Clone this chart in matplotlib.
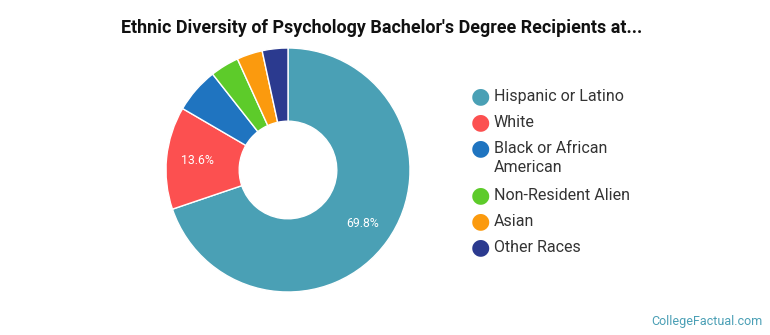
import numpy as np
import matplotlib.pyplot as plt

plt.rcParams['font.family'] = ['Roboto', 'DejaVu Sans']

# data
groups = ['Hispanic or Latino', 'White', 'Black or African\nAmerican',
          'Non-Resident Alien', 'Asian', 'Other Races']
shares = [69.8, 13.6, 6.0, 3.8, 3.4, 3.4]
colors = ['#4aa0b5', '#fc5050', '#1f74c0', '#5dcb2a', '#fb9a0e', '#2b3a8f']

fig = plt.figure(figsize=(7.7, 3.35), dpi=100)
W, H = 770, 335

# donut
cx, cy, r = 288, 170, 122
ax = fig.add_axes([(cx - r) / W, (H - cy - r) / H, 2 * r / W, 2 * r / H])
wedges, _ = ax.pie(shares, colors=colors, startangle=90, counterclock=False,
                   radius=1, wedgeprops=dict(width=0.6, edgecolor='white', linewidth=1))
ax.set_xlim(-1, 1)
ax.set_ylim(-1, 1)
ax.set_aspect('equal')
ax.axis('off')

# percent labels on the two big slices
for val, w in zip(shares, wedges):
    if val >= 10:
        mid = np.deg2rad((w.theta1 + w.theta2) / 2)
        ax.text(0.75 * np.cos(mid), 0.75 * np.sin(mid), f'{val}%', color='white',
                fontsize=8.8, ha='center', va='center')

fig.text(382 / W, 1 - 28 / H,
         "Ethnic Diversity of Psychology Bachelor's Degree Recipients at...",
         ha='center', va='center', fontsize=12.9, fontweight='bold', color='#111111')

# legend
y = 96
for lab, col in zip(groups, colors):
    fig.text(480 / W, 1 - y / H, '\u25cf', color=col, fontsize=16, ha='center', va='center',
             family='DejaVu Sans')
    fig.text(494 / W, 1 - (y - 7) / H, lab, fontsize=11.5, color='#333333',
             ha='left', va='top', linespacing=1.35)
    y += 26 + 21 * lab.count('\n')

fig.text(763 / W, 1 - 322 / H, 'CollegeFactual.com', ha='right', va='center',
         fontsize=9, color='#4a9fb5')

fig.savefig('out.png', dpi=100)
